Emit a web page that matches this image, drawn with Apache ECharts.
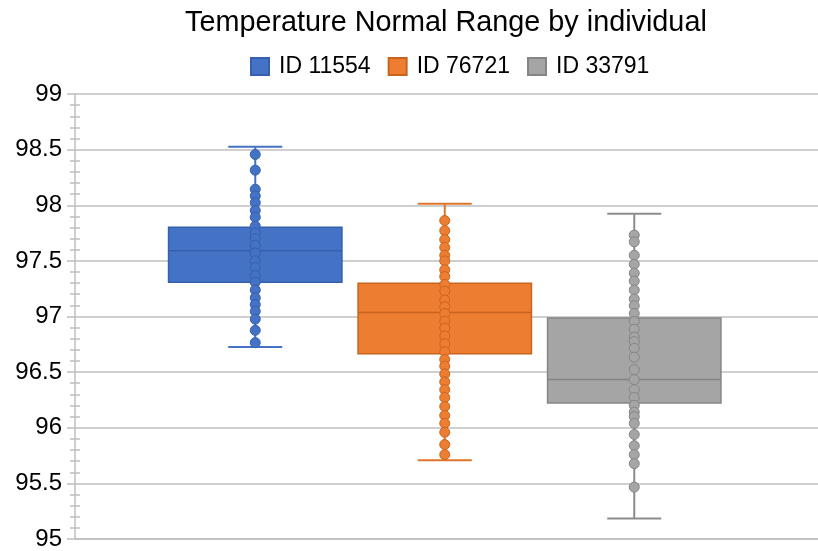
<!DOCTYPE html>
<html>
<head>
<meta charset="utf-8">
<script src="https://cdn.jsdelivr.net/npm/echarts@6/dist/echarts.min.js"></script>
<style>
  html, body { margin: 0; padding: 0; background: #fff; }
  #chart { width: 818px; height: 551px; }
</style>
</head>
<body>
<div id="chart"></div>
<script>
var categories = ['ID 11554', 'ID 76721', 'ID 33791'];

// box stats
var whiskerLow  = [96.74, 95.73, 95.21];
var quartile1   = [97.32, 96.68, 96.24];
var medians     = [97.60, 97.05, 96.45];
var quartile3   = [97.81, 97.31, 97.00];
var whiskerHigh = [98.53, 98.02, 97.93];

// inner points
var points11554 = [98.46, 98.32, 98.15, 98.09, 98.03, 97.96, 97.90, 97.82, 97.76, 97.71,
  97.65, 97.58, 97.51, 97.45, 97.38, 97.32, 97.25, 97.18, 97.12, 97.06, 96.99, 96.89, 96.78];
var points76721 = [97.87, 97.78, 97.70, 97.63, 97.56, 97.51, 97.43, 97.37, 97.30, 97.24,
  97.16, 97.10, 97.04, 96.97, 96.91, 96.84, 96.77, 96.70, 96.63, 96.57, 96.50, 96.43,
  96.36, 96.29, 96.21, 96.13, 96.06, 95.98, 95.87, 95.78];
var points33791 = [97.74, 97.68, 97.56, 97.48, 97.40, 97.33, 97.25, 97.17, 97.11, 97.04,
  96.97, 96.90, 96.83, 96.79, 96.73, 96.65, 96.54, 96.45, 96.36, 96.29, 96.22, 96.16,
  96.12, 96.06, 95.96, 95.86, 95.78, 95.70, 95.49];

var fills   = ['#4472C4', '#ED7D31', '#A5A5A5'];
var borders = ['#3560AE', '#C9641F', '#858585'];
var whiskers = ['#4472C4', '#E0742A', '#8C8C8C'];
var pointSets = [points11554, points76721, points33791];

var myChart = echarts.init(document.getElementById('chart'));

function makeBox(idx) {
  return function (params, api) {
    var x = api.value(0);
    var lo = api.coord([x, api.value(1)]);
    var q1 = api.coord([x, api.value(2)]);
    var md = api.coord([x, api.value(3)]);
    var q3 = api.coord([x, api.value(4)]);
    var hi = api.coord([x, api.value(5)]);
    var bw = api.size([1, 0])[0] * 0.915;
    var cap = 27;
    var cx = lo[0];
    var lineStyle = { stroke: whiskers[idx], lineWidth: 2 };
    return {
      type: 'group',
      children: [
        { type: 'line', shape: { x1: cx, y1: hi[1], x2: cx, y2: lo[1] }, style: lineStyle },
        { type: 'line', shape: { x1: cx - cap, y1: hi[1], x2: cx + cap, y2: hi[1] }, style: lineStyle },
        { type: 'line', shape: { x1: cx - cap, y1: lo[1], x2: cx + cap, y2: lo[1] }, style: lineStyle },
        { type: 'rect', shape: { x: cx - bw / 2, y: q3[1], width: bw, height: q1[1] - q3[1] },
          style: { fill: fills[idx], stroke: borders[idx], lineWidth: 1.5 } },
        { type: 'line', shape: { x1: cx - bw / 2, y1: md[1], x2: cx + bw / 2, y2: md[1] },
          style: { stroke: borders[idx], lineWidth: 1.5 } }
      ]
    };
  };
}

var series = [];
categories.forEach(function (name, i) {
  series.push({
    name: name,
    type: 'custom',
    xAxisIndex: 1,
    yAxisIndex: 2,
    itemStyle: { color: fills[i], borderColor: borders[i], borderWidth: 1 },
    renderItem: makeBox(i),
    encode: { x: 0, y: [1, 2, 3, 4, 5] },
    data: [[i, whiskerLow[i], quartile1[i], medians[i], quartile3[i], whiskerHigh[i]]],
    z: 2
  });
});
categories.forEach(function (name, i) {
  series.push({
    name: name + ' points',
    type: 'scatter',
    xAxisIndex: 1,
    yAxisIndex: 2,
    symbol: 'circle',
    symbolSize: 10,
    itemStyle: { color: fills[i], borderColor: borders[i], borderWidth: 1, opacity: 1 },
    data: pointSets[i].map(function (v) { return [i, v]; }),
    z: 3
  });
});

var options = {
  backgroundColor: '#fff',
  animation: false,
  title: {
    text: 'Temperature Normal Range by individual',
    left: 185,
    top: 9,
    padding: 0,
    textStyle: { fontFamily: 'Liberation Sans', fontSize: 28.8, fontWeight: 'normal', color: '#000' }
  },
  legend: {
    data: categories,
    left: 250,
    top: 55,
    padding: 0,
    icon: 'rect',
    itemWidth: 18,
    itemHeight: 17,
    itemGap: 17,
    textStyle: { fontFamily: 'Liberation Sans', fontSize: 23, color: '#000', padding: [0, 0, 0, 5] }
  },
  grid: [
    { left: 75, right: 0, top: 94, bottom: 9 },
    { left: 160.5, width: 568.5, top: 94, bottom: 9 }
  ],
  xAxis: [
    {
      gridIndex: 0, type: 'category', data: [''],
      axisLine: { show: true, lineStyle: { color: '#BFBFBF', width: 1.5 } },
      axisTick: { show: false }, axisLabel: { show: false }
    },
    {
      gridIndex: 1, type: 'category', data: categories, show: false
    }
  ],
  yAxis: [
    {
      gridIndex: 0, type: 'value', min: 95, max: 99, interval: 0.5, position: 'left',
      axisLine: { show: true, lineStyle: { color: '#BFBFBF', width: 1.5 } },
      axisTick: { show: true, length: 8, lineStyle: { color: '#BFBFBF', width: 1.5 } },
      minorTick: { show: true, splitNumber: 5, length: 5, lineStyle: { color: '#BFBFBF', width: 1.5 } },
      axisLabel: { fontFamily: 'Liberation Sans', fontSize: 24, color: '#000', margin: 13 },
      splitLine: { show: true, lineStyle: { color: '#BFBFBF', width: 1.5 } }
    },
    {
      gridIndex: 0, type: 'value', min: 95, max: 99, interval: 0.5, position: 'left', offset: 0,
      axisLine: { show: false },
      axisTick: { show: false, inside: true },
      minorTick: { show: true, splitNumber: 5, length: 5, lineStyle: { color: '#BFBFBF', width: 1.5 } },
      axisLabel: { show: false },
      splitLine: { show: false }
    },
    {
      gridIndex: 1, type: 'value', min: 95, max: 99, show: false
    }
  ],
  series: series
};
myChart.setOption(options);
</script>
</body>
</html>
